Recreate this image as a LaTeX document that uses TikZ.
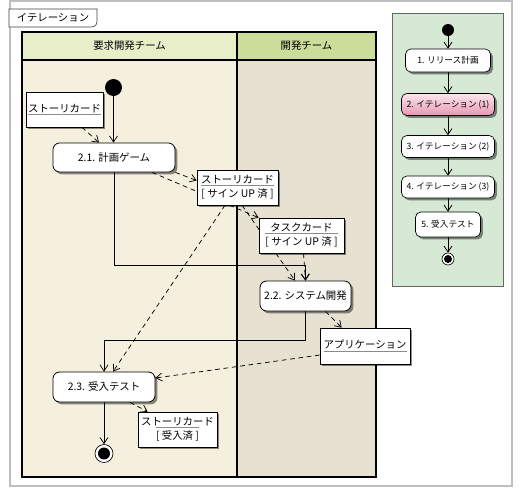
\documentclass[tikz,border=0pt]{standalone}
\usepackage{fontspec}
\setmainfont{Noto Sans CJK JP}
\usetikzlibrary{arrows.meta,shadows,calc}
\pgfdeclarelayer{bg}
\pgfdeclarelayer{edges}
\pgfsetlayers{bg,edges,main}
\definecolor{hdA}{RGB}{232,238,200}
\definecolor{hdB}{RGB}{204,221,153}
\definecolor{lnA}{RGB}{245,239,222}
\definecolor{lnB}{RGB}{230,225,208}
\definecolor{panelc}{RGB}{214,233,213}
\definecolor{pinkA}{RGB}{232,150,178}
\definecolor{pinkB}{RGB}{252,230,238}
\newlength\objw
\newcommand\objtwo[2]{\settowidth\objw{#2}\begin{tabular}{@{}c@{}}{\color{black!45}\underline{\color{black}\makebox[\objw]{#1}}}\\\relax #2\end{tabular}}
\newcommand\objone[1]{{\color{black!45}\underline{\color{black}#1}}}
\begin{document}
\begin{tikzpicture}[x=0.75pt,y=-0.75pt,
  font=\fontsize{7.8pt}{10.5pt}\selectfont,
  arr/.style={-{Straight Barb[length=4.5pt,width=6pt]}, line width=0.55pt},
  dsh/.style={arr, dash pattern=on 3.5pt off 2.8pt},
  shd/.style={drop shadow={shadow xshift=1.8pt, shadow yshift=-1.8pt, fill=black, opacity=.45}},
  act/.style={draw, line width=0.6pt, rounded corners=5pt, fill=white, shd, inner sep=0pt},
  obj/.style={draw, line width=0.5pt, fill=white, shd, inner sep=0pt},
  pact/.style={draw, line width=0.5pt, rounded corners=4pt, fill=white, shd, inner sep=0pt,
    font=\fontsize{6.5pt}{8pt}\selectfont, minimum height=16.5pt},
  initn/.style={circle, fill=black, inner sep=0pt},
  finn/.style={circle, draw=black, fill=white, line width=0.5pt, inner sep=0pt},
  finin/.style={circle, fill=black, inner sep=0pt}]
\useasboundingbox (0,0) rectangle (520,493);

% outer frame and tab
\draw[black!25, line width=2pt] (10,1) rectangle (512,486);
\draw[black!75, fill=white, line width=0.5pt] (9,9) -- (97,9) -- (97,21)
  .. controls (97,25) and (95,27) .. (91,27) -- (9,27) -- cycle;
\node (tab) at (53,18) {イテレーション};

% swimlanes
\begin{pgfonlayer}{bg}
\fill[lnA] (22,60) rectangle (237,477);
\fill[lnB] (237,60) rectangle (376,477);
\fill[hdA] (22,32) rectangle (237,60);
\fill[hdB] (237,32) rectangle (376,60);
\draw[line width=1.5pt] (22,32) rectangle (376,477);
\draw[line width=1.5pt] (22,60) -- (376,60);
\draw[line width=1.5pt] (237,32) -- (237,477);
\draw[black!60, fill=panelc, line width=0.5pt] (392,13) rectangle (503,286);
\end{pgfonlayer}
\node (hA) at (129.5,46) {要求開発チーム};
\node (hB) at (306.5,46) {開発チーム};

% main nodes
\node[initn, minimum size=12.75pt] (start) at (113.5,87.5) {};
\node[obj, minimum width=57.75pt, minimum height=26.25pt] (obj1) at (64.5,109.5) {\objone{ストーリカード}};
\node[act, minimum width=91.5pt, minimum height=21.75pt] (act21) at (114,157.5) {2.1. 計画ゲーム};
\node[obj, minimum width=60.75pt, minimum height=26.25pt] (obj2) at (237.5,187.5) {\objtwo{ストーリカード}{[ サイン UP 済 ]}};
\node[obj, minimum width=63.75pt, minimum height=26.25pt] (obj3) at (301.5,235.5) {\objtwo{タスクカード}{[ サイン UP 済 ]}};
\node[act, minimum width=68.25pt, minimum height=22.5pt] (act22) at (305.5,296) {2.2. システム開発};
\node[obj, minimum width=67.5pt, minimum height=27pt] (obj4) at (365,346) {\objone{アプリケーション}};
\node[act, minimum width=76.5pt, minimum height=22.5pt] (act23) at (104,387) {2.3. 受入テスト};
\node[obj, minimum width=59.25pt, minimum height=26.25pt] (obj5) at (177.5,429.5) {\objtwo{ストーリカード}{[ 受入済 ]}};
\node[finn, minimum size=13.5pt] (end) at (104,453.5) {};
\node[finin, minimum size=9pt] (endin) at (end.center) {};

\coordinate (j1) at (114,265);
\coordinate (j2) at (104,340);

\begin{pgfonlayer}{edges}
\draw[arr] (start) -- (start |- act21.north);
\draw[dsh] ($(obj1.south)+(17.5,0)$) -- ($(act21.north)+(-15,0)$);
\draw[dsh] (act21.south east) -- ($(obj2.west)+(0,-7)$);
\draw[dsh] ($(act21.south)+(38,0)$) -- (obj3.north west);
\draw[dsh] ($(obj2.south)+(4.5,0)$) -- ($(act22.north)+(-10.5,0)$);
\draw[dsh] ($(obj3.south)+(2,0)$) -- (act22.north);
\draw[arr] (act21.south) -- (j1) -| (act22.north);
\draw[dsh] ($(obj2.south)+(-12.5,0)$) -- ($(act23.north)+(9,0)$);
\draw[arr] (act22.south) |- (j2) -- (act23.north);
\draw[dsh] ($(act22.south)+(20,0)$) -- ($(obj4.north west)+(22,0)$);
\draw[dsh] ($(obj4.west)+(0,9)$) -- ($(act23.east)+(0,-9)$);
\draw[dsh] ($(act23.south)+(26,0)$) -- ($(obj5.north west)+(10,0)$);
\draw[arr] (act23.south) -- (end.north);
\end{pgfonlayer}

% right panel
\node[initn, minimum size=9pt] (ps) at (448,30) {};
\node[pact, minimum width=63.75pt, minimum height=17.25pt] (p1) at (448,60.5) {1. リリース計画};
\node[pact, minimum width=69.75pt, top color=pinkB, bottom color=pinkA] (p2) at (448,104.5) {2. イテレーション (1)};
\node[pact, minimum width=69.75pt] (p3) at (448,146.5) {3. イテレーション (2)};
\node[pact, minimum width=69.75pt] (p4) at (448,187) {4. イテレーション (3)};
\node[pact, minimum width=48.75pt, minimum height=18.75pt] (p5) at (448,224.5) {5. 受入テスト};
\node[finn, minimum size=9pt] (pe) at (448,259) {};
\node[finin, minimum size=6pt] (pein) at (pe.center) {};
\begin{pgfonlayer}{edges}
\draw[arr] (ps) -- (p1);
\draw[arr] (p1) -- (p2);
\draw[arr] (p2) -- (p3);
\draw[arr] (p3) -- (p4);
\draw[arr] (p4) -- (p5);
\draw[arr] (p5) -- (pe);
\end{pgfonlayer}
\end{tikzpicture}
\end{document}
